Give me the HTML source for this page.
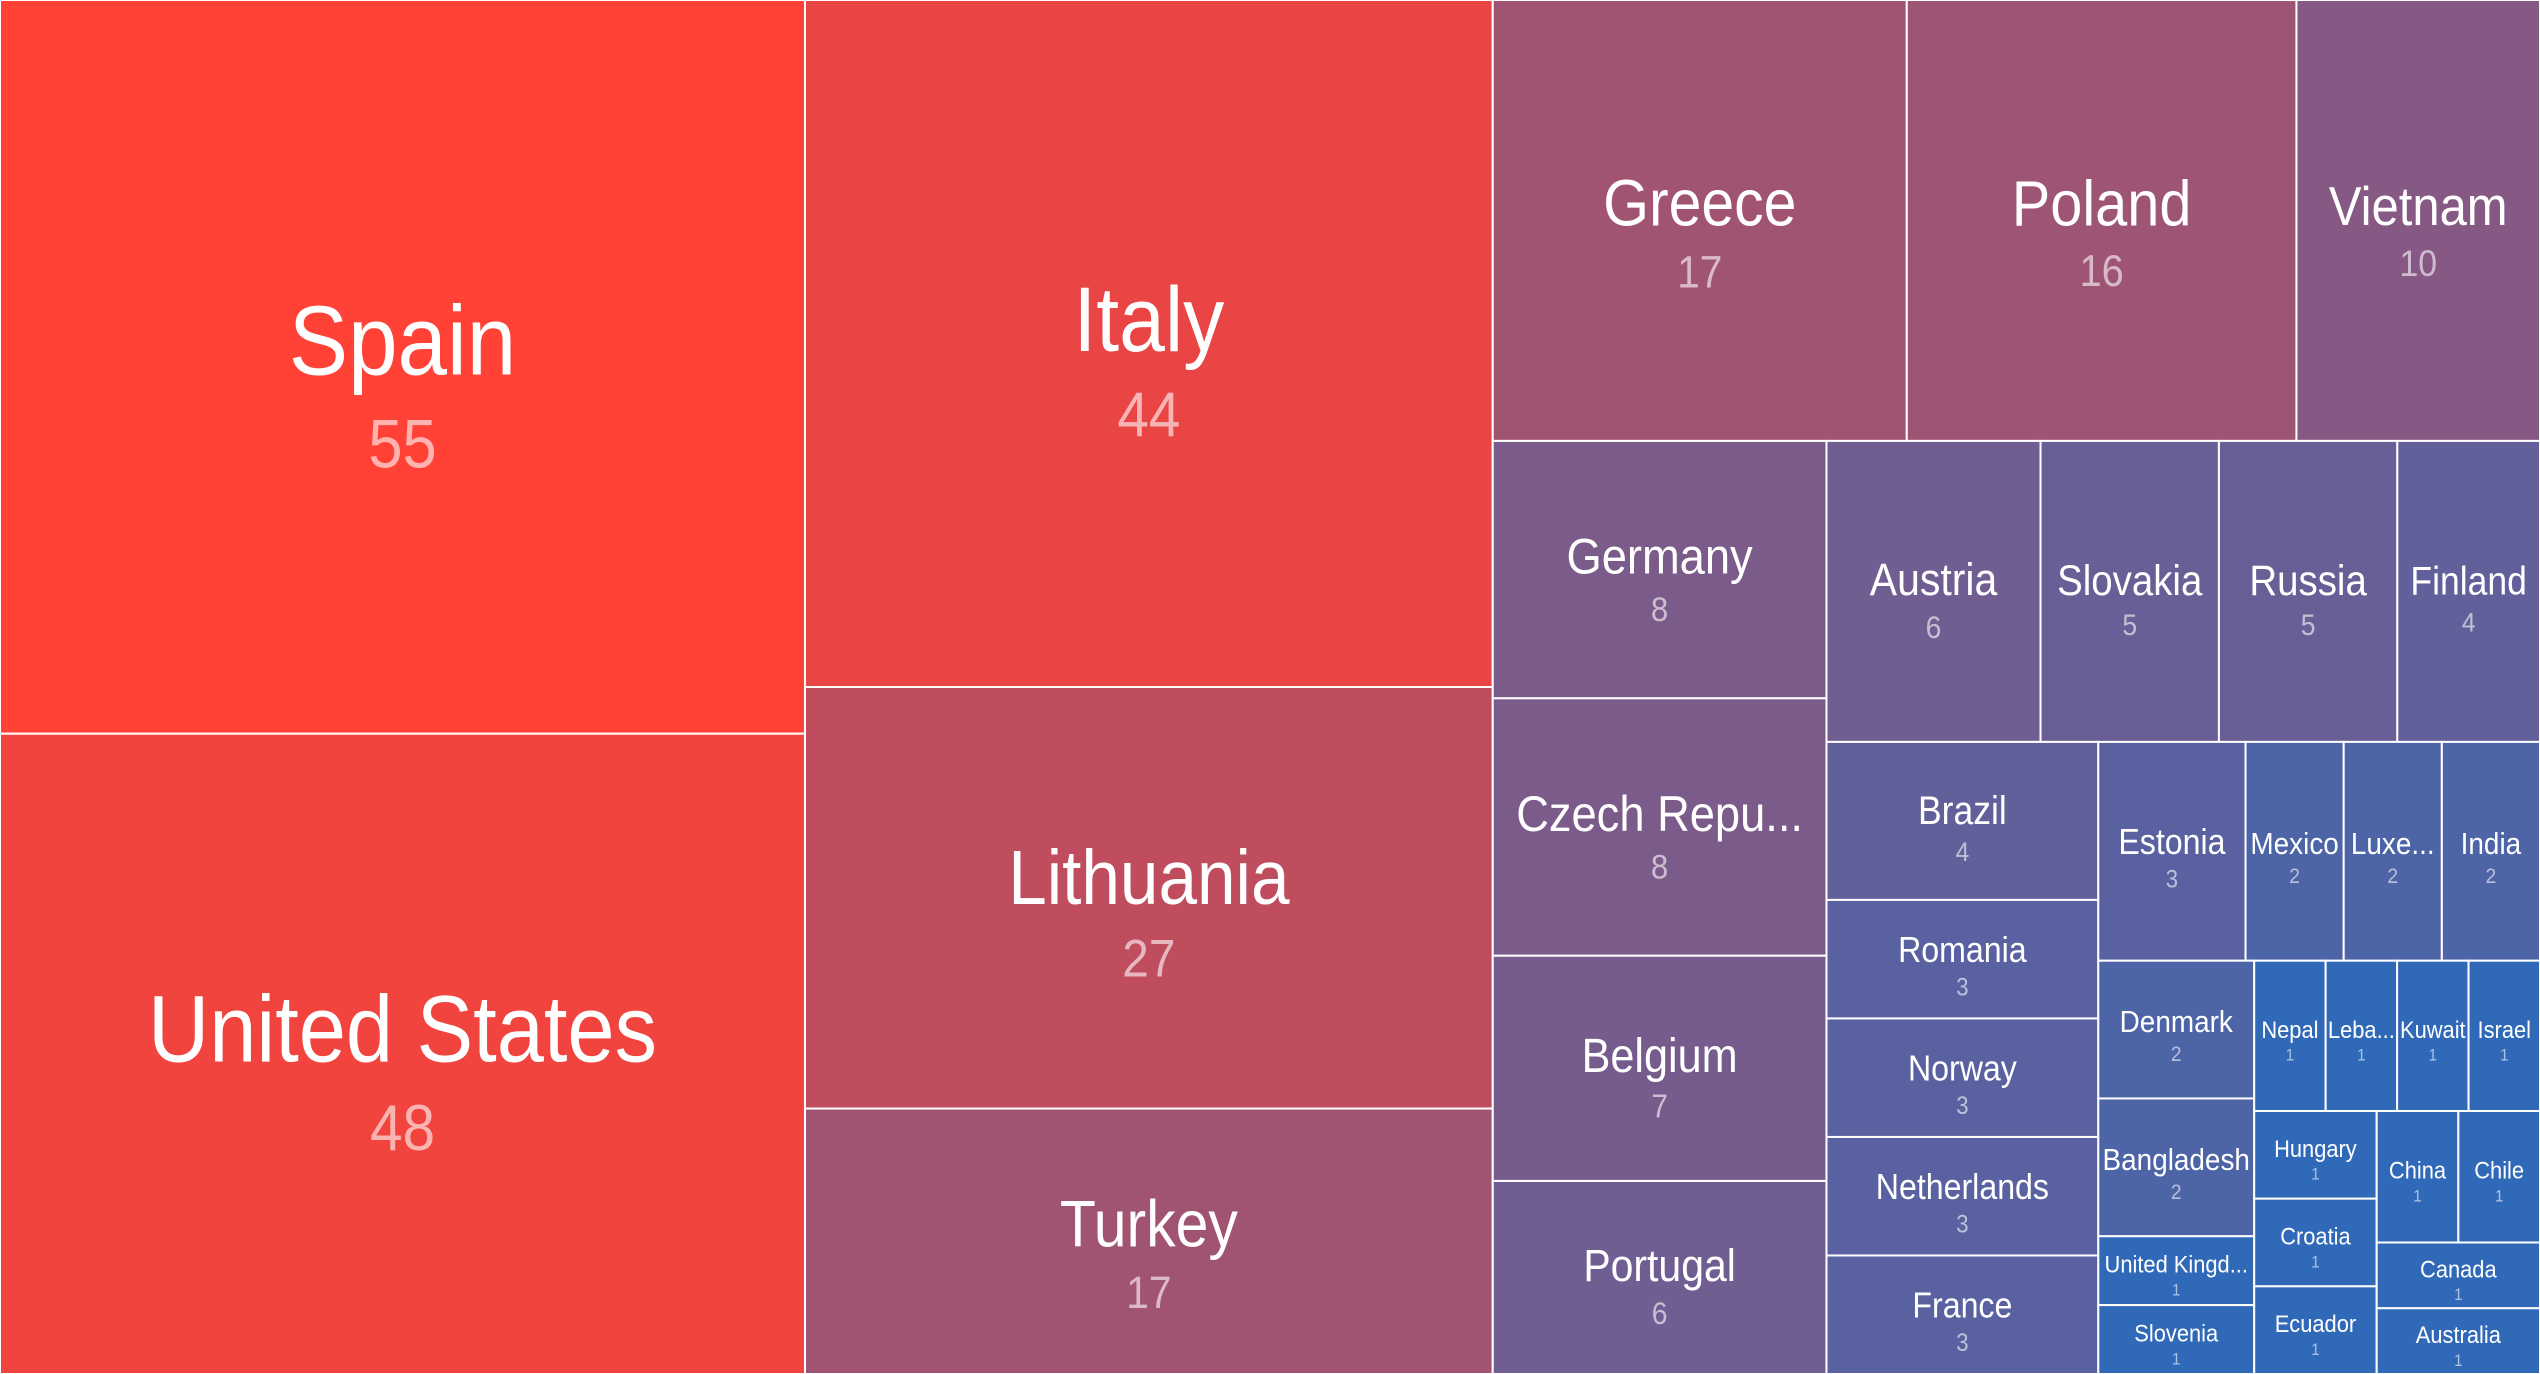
<!DOCTYPE html>
<html><head><meta charset="utf-8">
<style>
html,body{margin:0;padding:0;background:#fff;}
svg{display:block;}
text{font-family:"Liberation Sans",Arial,sans-serif;}
</style></head>
<body>
<svg id="chart" width="2540" height="1374" viewBox="0 0 2540 1374" xmlns="http://www.w3.org/2000/svg"></svg>
<script>
const countries = ["Spain","United States","Italy","Lithuania","Turkey","Greece","Poland","Vietnam","Germany","Czech Republic","Belgium","Portugal","Austria","Slovakia","Russia","Finland","Brazil","Romania","Norway","Netherlands","France","Estonia","Mexico","Luxembourg","India","Denmark","Bangladesh","United Kingdom","Slovenia","Nepal","Lebanon","Kuwait","Israel","Hungary","Croatia","Ecuador","China","Chile","Canada","Australia"];
const counts = [55,48,44,27,17,17,16,10,8,8,7,6,6,5,5,4,4,3,3,3,3,3,2,2,2,2,2,1,1,1,1,1,1,1,1,1,1,1,1,1];

const W = 2540, H = 1374;
const SX = 0.9;
const svg = document.getElementById('chart');
const NS = 'http://www.w3.org/2000/svg';
const PHI = (1 + Math.sqrt(5)) / 2;

function layout(values, x0, y0, x1, y1) {
  const out = new Array(values.length);
  let value = values.reduce((a, b) => a + b, 0);
  let i0 = 0, i1 = 0; const n = values.length;
  while (i0 < n) {
    const dx = x1 - x0, dy = y1 - y0;
    let sumValue = values[i1++];
    let minValue = sumValue, maxValue = sumValue;
    const alpha = Math.max(dy / dx, dx / dy) / (value * PHI);
    let beta = sumValue * sumValue * alpha;
    let minRatio = Math.max(maxValue / beta, beta / minValue);
    for (; i1 < n; ++i1) {
      const nv = values[i1];
      sumValue += nv;
      if (nv < minValue) minValue = nv;
      if (nv > maxValue) maxValue = nv;
      beta = sumValue * sumValue * alpha;
      const nr = Math.max(maxValue / beta, beta / minValue);
      if (nr > minRatio) { sumValue -= nv; break; }
      minRatio = nr;
    }
    if (dx < dy) {
      const ny = y0 + dy * sumValue / value;
      let x = x0;
      for (let i = i0; i < i1; i++) { const w = dx * values[i] / sumValue; out[i] = [x, y0, x + w, ny]; x += w; }
      y0 = ny;
    } else {
      const nx = x0 + dx * sumValue / value;
      let y = y0;
      for (let i = i0; i < i1; i++) { const h = dy * values[i] / sumValue; out[i] = [x0, y, nx, y + h]; y += h; }
      x0 = nx;
    }
    value -= sumValue; i0 = i1;
  }
  return out;
}

const maxV = Math.max(...counts), minV = Math.min(...counts);
function color(v) {
  const t = Math.sqrt((v - minV) / (maxV - minV));
  const r = Math.round(49 + (255 - 49) * t);
  const g = Math.round(105 + (65 - 105) * t);
  const b = Math.round(185 + (54 - 185) * t);
  return `rgb(${r},${g},${b})`;
}

const rects = layout(counts, 0, 0, W, H);
rects.forEach((r, i) => {
  const [x0, y0, x1, y1] = r;
  const g = document.createElementNS(NS, 'g');
  
  
  const rect = document.createElementNS(NS, 'rect');
  
  
  rect.setAttribute('x', x0); rect.setAttribute('y', y0);
  rect.setAttribute('width', x1 - x0); rect.setAttribute('height', y1 - y0);
  rect.setAttribute('fill', color(counts[i]));
  rect.setAttribute('stroke', '#ffffff'); rect.setAttribute('stroke-width', '2');
  g.appendChild(rect);

  const cx = (x0 + x1) / 2, cy = (y0 + y1) / 2, bw = x1 - x0;
  const fs = 24.3 * Math.pow(counts[i], 0.35);
  const tr = `translate(${cx},0) scale(${SX},1) translate(${-cx},0)`;
  const nameT = document.createElementNS(NS, 'text');
  
  
  nameT.setAttribute('x', cx); nameT.setAttribute('y', cy + 0.08 * fs);
  nameT.setAttribute('text-anchor', 'middle');
  nameT.setAttribute('font-size', fs.toFixed(1));
  nameT.setAttribute('fill', '#ffffff');
  nameT.setAttribute('transform', tr);
  nameT.textContent = countries[i];
  g.appendChild(nameT);

  const valT = document.createElementNS(NS, 'text');
  
  
  valT.setAttribute('x', cx); valT.setAttribute('y', cy + 0.08 * fs + 0.94 * fs);
  valT.setAttribute('text-anchor', 'middle');
  valT.setAttribute('font-size', (0.69 * fs).toFixed(1));
  valT.setAttribute('fill', 'rgba(255,255,255,0.6)');
  valT.setAttribute('transform', tr);
  valT.textContent = counts[i];
  g.appendChild(valT);
  svg.appendChild(g);

  const maxW = (bw - Math.max(4, (fs - 30) * 1.6)) / SX;
  if (nameT.getComputedTextLength() > maxW) {
    let s = countries[i];
    while (s.length > 1) {
      s = s.slice(0, -1);
      nameT.textContent = s.trimEnd() + '...';
      if (nameT.getComputedTextLength() <= maxW) break;
    }
  }
});
</script>
</body></html>
